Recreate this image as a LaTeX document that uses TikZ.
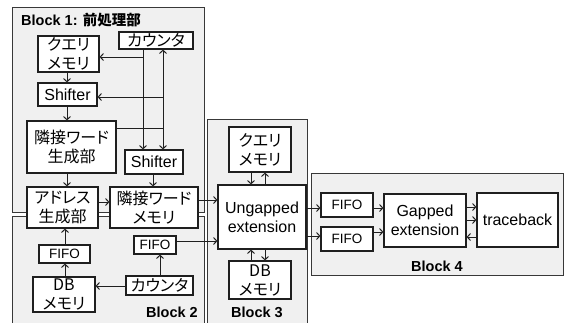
\documentclass[tikz,border=0pt]{standalone}
\usepackage{fontspec}
\setmainfont{Liberation Sans}
\newfontfamily\jp[RawFeature={+palt}]{Noto Sans CJK JP}
\usetikzlibrary{arrows.meta}
\begin{document}
\begin{tikzpicture}[x=1pt,y=-1pt,
  blk/.style={draw=black!78,fill=black!6,line width=1pt},
  bx/.style={draw=black!88,fill=white,line width=1.2pt,inner sep=0pt,align=center,font=\fontsize{16}{19}\selectfont},
  jbx/.style={bx,font=\jp\fontsize{16}{19}\selectfont},
  fbx/.style={bx,font=\fontsize{13.5}{15}\selectfont},
  ar/.style={-{Straight Barb[length=3.2pt,width=7pt,line width=1pt]},line width=1pt,draw=black!88},
  ln/.style={line width=1pt,draw=black!88},
  ttl/.style={font=\bfseries\fontsize{14.5}{16}\selectfont,inner sep=0pt}]
\useasboundingbox (0,0) rectangle (565,322);
\begin{scope}
\clip (0,0) rectangle (565,322);
\draw[blk] (12,7) rectangle (204,212);
\draw[blk] (12,216) rectangle (204,340);
\draw[blk] (207,119) rectangle (307,340);
\draw[blk] (311,173) rectangle (563,275);
\end{scope}
% titles
\node[ttl,anchor=west] (t1) at (21,20) {Block 1: {\jp\bfseries 前処理部}};
\node[ttl] (t2) at (172,312) {Block 2};
\node[ttl] (t3) at (257,312) {Block 3};
\node[ttl] (t4) at (437,266) {Block 4};
% block 1
\node[jbx,minimum width=61,minimum height=36] (q1) at (68.5,54) {クエリ\\メモリ};
\node[jbx,minimum width=74,minimum height=17] (c1) at (156,40.5) {カウンタ};
\node[bx,minimum width=59,minimum height=23] (s1) at (67.5,94.5) {Shifter};
\node[jbx,minimum width=89,minimum height=52] (g1) at (71.5,147) {隣接ワード\\生成部};
\node[bx,minimum width=58,minimum height=24] (s2) at (154,162) {Shifter};
\node[jbx,minimum width=71,minimum height=41] (a1) at (62.5,207.5) {アドレス\\生成部};
\node[jbx,minimum width=88,minimum height=41] (m1) at (154,207.5) {隣接ワード\\メモリ};
% block 2
\node[fbx,minimum width=51,minimum height=18] (f1) at (64.5,254) {FIFO};
\node[jbx,minimum width=62,minimum height=35] (d1) at (64,294.5) {DB\\メモリ};
\node[fbx,minimum width=42,minimum height=18] (f2) at (155,245) {FIFO};
\node[jbx,minimum width=67,minimum height=19] (c2) at (159.5,285.5) {カウンタ};
% block 3
\node[jbx,minimum width=62,minimum height=45] (q3) at (260,149.5) {クエリ\\メモリ};
\node[bx,minimum width=88,minimum height=64] (u) at (262,217) {Ungapped\\extension};
\node[jbx,minimum width=62,minimum height=38] (d3) at (260,280) {DB\\メモリ};
% block 4
\node[fbx,minimum width=52,minimum height=24] (f3) at (347,205) {FIFO};
\node[fbx,minimum width=52,minimum height=24] (f4) at (347,239) {FIFO};
\node[bx,minimum width=82,minimum height=53] (ge) at (425,220.5) {Gapped\\extension};
\node[bx,minimum width=81,minimum height=54] (tb) at (517.5,220) {traceback};
% helper coordinates
\coordinate (xa) at (143,0);
\coordinate (xb) at (163,0);
\coordinate (jb) at (163,128);
\coordinate (ja) at (143,57);
\coordinate (js) at (163,97);
% block 1 connectors
\draw[ar] (c1.south -| xa) -- (s2.north -| xa);
\draw[ar] (ja) -- (q1.east |- ja);
\draw[ar] (jb) -- (c1.south -| xb);
\draw[ar] (jb) -- (s2.north -| xb);
\draw[ln] (g1.east |- jb) -- (jb);
\draw[ar] (js) -- (s1.east |- js);
\draw[ar] (q1.south -| 67,0) -- (s1.north -| 67,0);
\draw[ar] (s1.south -| 67,0) -- (g1.north -| 67,0);
\draw[ar] (g1.south -| 67,0) -- (a1.north -| 67,0);
\draw[ar] (s2.south -| 153,0) -- (m1.north -| 153,0);
\draw[ar] (a1.east |- 0,202) -- (m1.west |- 0,202);
\draw[ar] (m1.east |- 0,200) -- (u.west |- 0,200);
% block 2 connectors
\draw[ar] (f2.east |- 0,241) -- (u.west |- 0,241);
\draw[ar] (f1.north -| 65,0) -- (a1.south -| 65,0);
\draw[ar] (d1.north -| 65,0) -- (f1.south -| 65,0);
\draw[ar] (c2.west |- 0,286) -- (d1.east |- 0,286);
\draw[ar] (c2.north -| 160,0) -- (f2.south -| 160,0);
% block 3 connectors
\draw[ar] (q3.south -| 251,0) -- (u.north -| 251,0);
\draw[ar] (u.north -| 265,0) -- (q3.south -| 265,0);
\draw[ar] (d3.north -| 251,0) -- (u.south -| 251,0);
\draw[ar] (u.south -| 265,0) -- (d3.north -| 265,0);
\draw[ar] (u.east |- 0,208) -- (f3.west |- 0,208);
\draw[ar] (u.east |- 0,236) -- (f4.west |- 0,236);
% block 4 connectors
\draw[ar] (f3.east |- 0,208) -- (ge.west |- 0,208);
\draw[ar] (f4.east |- 0,232) -- (ge.west |- 0,232);
\draw[ar] (ge.east |- 0,207) -- (tb.west |- 0,207);
\draw[ar] (ge.east |- 0,220) -- (tb.west |- 0,220);
\draw[ar] (tb.west |- 0,237) -- (ge.east |- 0,237);
\end{tikzpicture}
\end{document}
